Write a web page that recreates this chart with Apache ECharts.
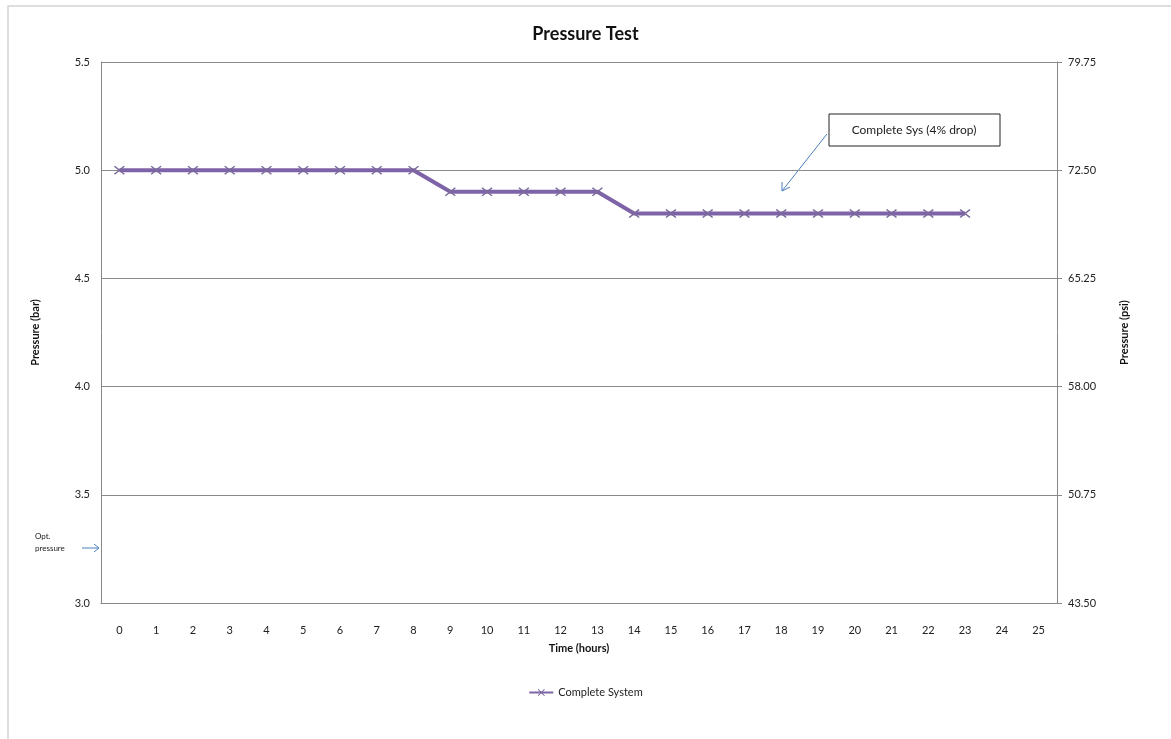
<!DOCTYPE html>
<html>
<head>
<meta charset="utf-8">
<script src="https://cdn.jsdelivr.net/npm/echarts@6/dist/echarts.min.js"></script>
<style>
  html, body { margin: 0; padding: 0; background: #fff; }
  #chart { width: 1171px; height: 739px; }
</style>
</head>
<body>
<div id="chart"></div>
<script>
// time axis categories (hours)
const hours = ['0','1','2','3','4','5','6','7','8','9','10','11','12','13','14','15','16','17','18','19','20','21','22','23','24','25']
// pressure in bar, readings stop after hour 23
const pressure = [5.0,5.0,5.0,5.0,5.0,5.0,5.0,5.0,5.0,4.9,4.9,4.9,4.9,4.9,4.8,4.8,4.8,4.8,4.8,4.8,4.8,4.8,4.8,4.8,null,null]
const barTicks = { min: 3.0, max: 5.5, step: 0.5 }
const psiTicks = { min: 43.5, max: 79.75, step: 7.25 }

const FONT = 'Lato, "Liberation Sans", sans-serif'
const CROSS = 'path://M0,1L1,0L5,4L9,0L10,1L6,5L10,9L9,10L5,6L1,10L0,9L4,5Z'

const chart = echarts.init(document.getElementById('chart'))
chart.setOption({
  animation: false,
  textStyle: { fontFamily: FONT },
  title: {
    text: 'Pressure Test', left: 'center', top: 20,
    textStyle: { fontSize: 18, fontWeight: 'bold', color: '#111', fontFamily: FONT }
  },
  legend: {
    bottom: 36, left: 'center',
    itemWidth: 24, itemHeight: 9,
    textStyle: { fontSize: 11, color: '#222' },
    data: ['Complete System']
  },
  grid: { left: 101, right: 114, top: 62, bottom: 136 },
  xAxis: {
    type: 'category', data: hours, boundaryGap: true,
    name: 'Time (hours)', nameLocation: 'middle', nameGap: 40,
    nameTextStyle: { fontSize: 11, fontWeight: 'bold', color: '#111' },
    axisLine: { lineStyle: { color: '#888' } },
    axisTick: { show: false },
    axisLabel: { color: '#222', fontSize: 11, margin: 22, interval: 0 }
  },
  yAxis: [{
    type: 'value', min: barTicks.min, max: barTicks.max, interval: barTicks.step,
    name: 'Pressure (bar)', nameLocation: 'middle', nameGap: 60, nameRotate: 90,
    nameTextStyle: { fontSize: 11, fontWeight: 'bold', color: '#111' },
    axisLine: { show: true, lineStyle: { color: '#888' } },
    axisTick: { show: false },
    axisLabel: { color: '#222', fontSize: 11, margin: 11, formatter: v => v.toFixed(1) },
    splitLine: { lineStyle: { color: '#8a8a8a', width: 1 } }
  }, {
    type: 'value', position: 'right',
    min: psiTicks.min, max: psiTicks.max, interval: psiTicks.step,
    name: 'Pressure (psi)', nameLocation: 'middle', nameGap: 62, nameRotate: 90,
    nameTextStyle: { fontSize: 11, fontWeight: 'bold', color: '#111' },
    axisLine: { show: true, lineStyle: { color: '#888' } },
    axisTick: { show: true, inside: false, length: 5, lineStyle: { color: '#888' } },
    axisLabel: { color: '#222', fontSize: 11, margin: 11, formatter: v => v.toFixed(2) },
    splitLine: { show: false }
  }],
  series: [{
    name: 'Complete System', type: 'line', data: pressure, yAxisIndex: 0,
    symbol: CROSS, symbolSize: [11, 9],
    lineStyle: { color: '#7f63a8', width: 4 },
    itemStyle: { color: '#7a6a9c' }
  }],
  graphic: [
    { type: 'rect', shape: { x: 8, y: 6, width: 1200, height: 800 },
      style: { fill: 'none', stroke: '#d4d4d4', lineWidth: 1.5 }, silent: true },
    // callout box
    { type: 'rect', shape: { x: 829, y: 114, width: 171, height: 32 },
      style: { fill: '#fff', stroke: '#222', lineWidth: 1 } },
    { type: 'text', x: 914, y: 130,
      style: { text: 'Complete Sys (4% drop)', fontSize: 12, fill: '#222', fontFamily: FONT, align: 'center', verticalAlign: 'middle' } },
    { type: 'line', shape: { x1: 827, y1: 134, x2: 782, y2: 191 },
      style: { stroke: '#4a7ebb', lineWidth: 1 } },
    { type: 'polyline', shape: { points: [[782, 182], [782, 191], [790, 187]] },
      style: { stroke: '#4a7ebb', lineWidth: 1, fill: 'none' } },
    // optimum pressure note
    { type: 'text', x: 35, y: 536,
      style: { text: 'Opt.', fontSize: 8, fill: '#222', fontFamily: FONT, verticalAlign: 'middle' } },
    { type: 'text', x: 35, y: 548,
      style: { text: 'pressure', fontSize: 8, fill: '#222', fontFamily: FONT, verticalAlign: 'middle' } },
    { type: 'line', shape: { x1: 82, y1: 548, x2: 99, y2: 548 },
      style: { stroke: '#4a7ebb', lineWidth: 1 } },
    { type: 'polyline', shape: { points: [[94, 544], [99, 548], [94, 552]] },
      style: { stroke: '#4a7ebb', lineWidth: 1, fill: 'none' } }
  ]
})
</script>
</body>
</html>
